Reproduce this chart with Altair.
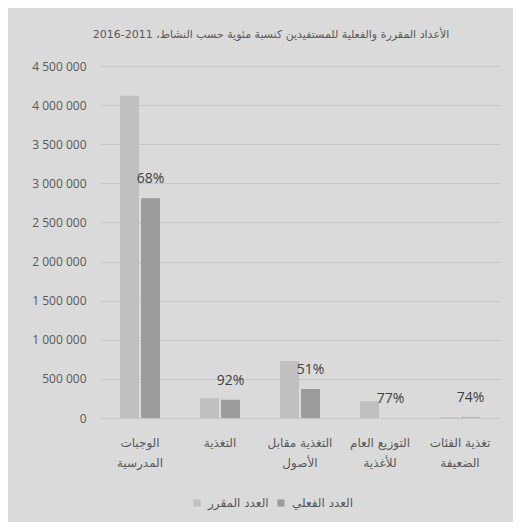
import altair as alt
import pandas as pd

categories = ["الوجبات\nالمدرسية", "التغذية", "التغذية مقابل\nالأصول", "التوزيع العام\nللأغذية", "تغذية الفئات\nالضعيفة"]
series_names = ["العدد المقرر", "العدد الفعلي"]
planned = [4120000, 252000, 729000, 213000, 9000]
actual = [2810000, 232000, 371000, 0, 7000]
pct_labels = ["68%", "92%", "51%", "77%", "74%"]
y_ticks = [0, 500000, 1000000, 1500000, 2000000, 2500000, 3000000, 3500000, 4000000, 4500000]
title_text = "\u202bالأعداد المقررة والفعلية للمستفيدين كنسبة مئوية حسب النشاط، 2011-2016\u202c"

rows = []
for c, p, a in zip(categories, planned, actual):
    rows.append({"category": c, "series": series_names[0], "value": p})
    rows.append({"category": c, "series": series_names[1], "value": a})
bars_df = pd.DataFrame(rows)
text_df = pd.DataFrame({"category": categories, "series": series_names[1], "value": actual, "label": pct_labels})

txt_color = "#595959"

x = alt.X("category:N", sort=categories,
          scale=alt.Scale(paddingInner=0.5, paddingOuter=0.25),
          axis=alt.Axis(title=None, labelAngle=0, labelExpr="split(datum.label, '\\n')",
                        labelLineHeight=20, labelFontSize=12, labelColor=txt_color,
                        labelFont="DejaVu Sans", labelPadding=19, domain=False, ticks=False))
xo = alt.XOffset("series:N", sort=series_names, scale=alt.Scale(paddingInner=0.1))
y = alt.Y("value:Q", scale=alt.Scale(domain=[0, 4500000], nice=False),
          axis=alt.Axis(title=None, values=y_ticks,
                        labelExpr="replace(format(datum.value, ','), regexp(',', 'g'), ' ')",
                        grid=True, gridColor="#C6C6C6", domain=False, ticks=False,
                        labelPadding=14, labelFontSize=12, labelColor=txt_color, labelFont="Open Sans"))

bars = alt.Chart(bars_df).mark_bar().encode(
    x=x, xOffset=xo, y=y,
    color=alt.Color("series:N", sort=series_names,
                    scale=alt.Scale(domain=series_names, range=["#BFBFBF", "#9B9B9B"]),
                    legend=alt.Legend(orient="none", legendX=91, legendY=431, direction="horizontal",
                                      title=None, symbolType="square", symbolSize=49,
                                      symbolStrokeWidth=0, labelFontSize=12, labelColor=txt_color,
                                      labelFont="DejaVu Sans", columnPadding=6, labelOffset=5))
)

texts = alt.Chart(text_df).mark_text(dy=-19, fontSize=14, color="#404040", font="Open Sans", baseline="middle").encode(
    x=x, xOffset=xo, y=y, text="label:N"
)

chart = alt.layer(bars, texts).properties(
    width=400, height=352,
    title=alt.TitleParams(text=title_text, fontSize=11, color=txt_color, font="DejaVu Sans",
                          fontWeight="normal", anchor="middle", dx=-29, offset=20),
    autosize=alt.AutoSizeParams(type="none"),
    padding={"left": 92, "top": 58, "right": 13, "bottom": 104},
).configure(background="#DADADA").configure_view(stroke=None)

chart.save("out.html", embed_options={"renderer": "svg", "actions": False})
